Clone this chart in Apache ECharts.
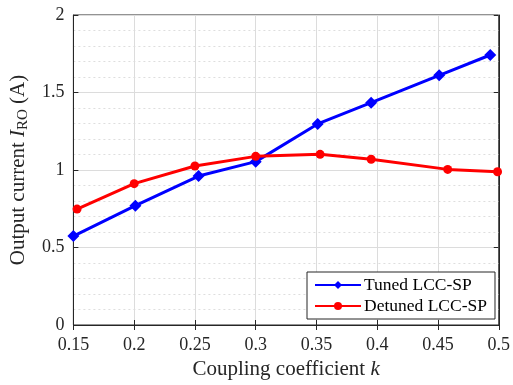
<!DOCTYPE html>
<html>
<head>
<meta charset="utf-8">
<script src="https://cdn.jsdelivr.net/npm/echarts@6/dist/echarts.min.js"></script>
<style>
  html, body { margin: 0; padding: 0; background: #fff; }
  #chart { width: 513px; height: 385px; }
</style>
</head>
<body>
<div id="chart"></div>
<script>
// Coupling coefficient k for each measured point
const tunedK = [0.150, 0.201, 0.253, 0.300, 0.351, 0.395, 0.451, 0.493];
const tunedI = [0.574, 0.770, 0.961, 1.054, 1.297, 1.434, 1.611, 1.742];
const detunedK = [0.153, 0.200, 0.250, 0.300, 0.353, 0.395, 0.458, 0.499];
const detunedI = [0.748, 0.912, 1.026, 1.088, 1.101, 1.069, 1.004, 0.989];
const xTicks = [0.15, 0.2, 0.25, 0.3, 0.35, 0.4, 0.45, 0.5];
const yTicks = [0, 0.5, 1, 1.5, 2];

const FONT = '"Liberation Serif", "DejaVu Serif", serif';
const INK = '#262626';
const pairs = (xs, ys) => xs.map((x, i) => [x, ys[i]]);

const chart = echarts.init(document.getElementById('chart'));

chart.setOption({
  animation: false,
  grid: { left: 71, right: 12, top: 15, bottom: 60, show: true, borderColor: INK, borderWidth: 1 },
  xAxis: [{
    type: 'value',
    min: xTicks[0], max: xTicks[xTicks.length - 1], interval: 0.05,
    name: '{n|Coupling coefficient }{i|k}',
    nameLocation: 'middle', nameGap: 34,
    nameTextStyle: {
      rich: {
        n: { fontFamily: FONT, fontSize: 21, color: INK },
        i: { fontFamily: FONT, fontSize: 21, fontStyle: 'italic', color: INK }
      }
    },
    axisLine: { show: true, lineStyle: { color: INK } },
    axisTick: { show: true, inside: true, length: 5, lineStyle: { color: INK } },
    axisLabel: {
      fontFamily: FONT, fontSize: 18, color: INK, margin: 11,
      formatter: v => String(+v.toFixed(2))
    },
    splitLine: { show: true, lineStyle: { color: '#dcdcdc', width: 1 } }
  }, {
    type: 'value', position: 'top',
    min: xTicks[0], max: xTicks[xTicks.length - 1], interval: 0.05,
    axisLine: { show: true, lineStyle: { color: INK } },
    axisTick: { show: true, inside: true, length: 5, lineStyle: { color: INK } },
    axisLabel: { show: false }, splitLine: { show: false }
  }],
  yAxis: [{
    type: 'value',
    min: yTicks[0], max: yTicks[yTicks.length - 1], interval: 0.5,
    name: '{n|Output current }{i|I}{s|RO}{n| (A)}',
    nameLocation: 'middle', nameGap: 41, nameRotate: 90,
    nameTextStyle: {
      rich: {
        n: { fontFamily: FONT, fontSize: 21, color: INK },
        i: { fontFamily: FONT, fontSize: 21, fontStyle: 'italic', color: INK },
        s: { fontFamily: FONT, fontSize: 15, color: INK, verticalAlign: 'bottom', padding: [10, 0, 0, 0] }
      }
    },
    axisLine: { show: true, lineStyle: { color: INK } },
    axisTick: { show: true, inside: true, length: 5, lineStyle: { color: INK } },
    axisLabel: {
      fontFamily: FONT, fontSize: 18, color: INK, margin: 9,
      formatter: v => String(+v.toFixed(1))
    },
    splitLine: { show: true, lineStyle: { color: '#dcdcdc', width: 1 } },
    minorTick: { show: false, splitNumber: 5 },
    minorSplitLine: { show: true, lineStyle: { color: '#dedede', type: [2, 3], width: 1 } }
  }, {
    type: 'value', position: 'right',
    min: yTicks[0], max: yTicks[yTicks.length - 1], interval: 0.5,
    axisLine: { show: true, lineStyle: { color: INK } },
    axisTick: { show: true, inside: true, length: 5, lineStyle: { color: INK } },
    axisLabel: { show: false }, splitLine: { show: false }
  }],
  legend: {
    left: 307, top: 272,
    orient: 'vertical',
    backgroundColor: '#fff',
    borderColor: INK, borderWidth: 1, borderRadius: 0,
    padding: [4, 8, 4, 7],
    itemGap: 3,
    itemWidth: 46, itemHeight: 10,
    textStyle: { fontFamily: FONT, fontSize: 17.5, color: '#000', padding: [0, 0, 0, -2] },
    data: ['Tuned LCC-SP', 'Detuned LCC-SP']
  },
  series: [{
    name: 'Tuned LCC-SP',
    type: 'line',
    data: pairs(tunedK, tunedI),
    symbol: 'diamond', symbolSize: 12,
    lineStyle: { color: '#0000ff', width: 3 },
    itemStyle: { color: '#0000ff' },
    z: 3
  }, {
    name: 'Detuned LCC-SP',
    type: 'line',
    data: pairs(detunedK, detunedI),
    symbol: 'circle', symbolSize: 9,
    lineStyle: { color: '#ff0000', width: 3 },
    itemStyle: { color: '#ff0000' },
    z: 4
  }]
});
</script>
</body>
</html>
